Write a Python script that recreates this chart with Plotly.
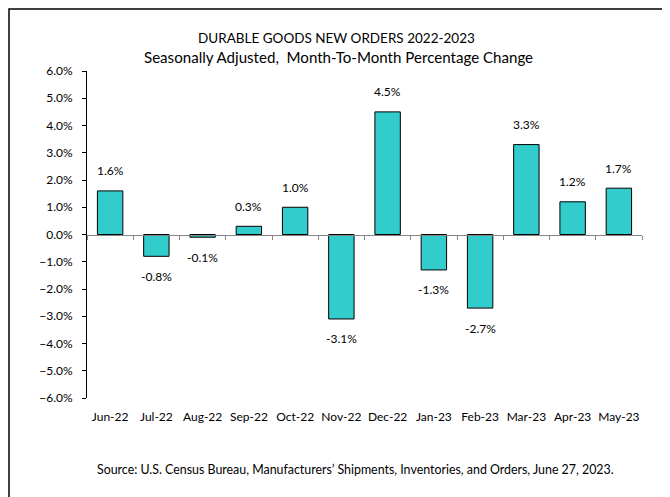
import plotly.graph_objects as go

months = ["Jun-22", "Jul-22", "Aug-22", "Sep-22", "Oct-22", "Nov-22",
          "Dec-22", "Jan-23", "Feb-23", "Mar-23", "Apr-23", "May-23"]
changes = [1.6, -0.8, -0.1, 0.3, 1.0, -3.1, 4.5, -1.3, -2.7, 3.3, 1.2, 1.7]
value_labels = [f"{v:.1f}%" for v in changes]

title_lines = ["DURABLE GOODS NEW ORDERS 2022-2023",
               "Seasonally Adjusted,  Month-To-Month Percentage Change"]
source_text = ("Source: U.S. Census Bureau, Manufacturers\u2019 Shipments, "
               "Inventories, and Orders, June 27, 2023.")

FONT = "Lato"
OFF = 8  # browser body margin
W, H = 670 - OFF, 497 - OFF
ML = 87 - OFF
MT = 71 - OFF
PLOT_R = 642 - OFF
PLOT_B = 398.4 - OFF
MR = W - PLOT_R
MB = H - PLOT_B
PW = W - ML - MR
PH = H - MT - MB

fig = go.Figure()
fig.add_trace(go.Bar(
    x=months, y=changes, width=0.55,
    marker=dict(color="#33CCCC", line=dict(color="#000000", width=1)),
    hoverinfo="skip", showlegend=False,
))
# invisible helper trace so the zero-line axis (with boundary ticks) is drawn
fig.add_trace(go.Scatter(
    x=months, y=[0] * len(months), xaxis="x2", mode="markers",
    marker=dict(opacity=0), hoverinfo="skip", showlegend=False,
))

for m, v, t in zip(months, changes, value_labels):
    fig.add_annotation(x=m, y=v, text=t, showarrow=False,
                       yshift=20 if v >= 0 else -20,
                       font=dict(family=FONT, size=12, color="#000000"))

def px_x(px):
    return (px - OFF - ML) / PW

def px_y(py):
    return (H - MB - (py - OFF)) / PH

fig.add_annotation(xref="paper", yref="paper", x=px_x(355.5), y=px_y(470),
                   text=source_text, showarrow=False, xanchor="center",
                   yanchor="middle", font=dict(family=FONT, size=12.4, color="#000000"))

# title, two lines
fig.add_annotation(xref="paper", yref="paper", x=px_x(336), y=px_y(38),
                   text=title_lines[0], showarrow=False, xanchor="center",
                   yanchor="middle", font=dict(family=FONT, size=13.5, color="#000000"))
fig.add_annotation(xref="paper", yref="paper", x=px_x(338), y=px_y(57),
                   text=title_lines[1], showarrow=False, xanchor="center",
                   yanchor="middle", font=dict(family=FONT, size=15.1, color="#000000"))

# outer chart border (extends past right/bottom of the window)
fig.add_shape(type="rect", xref="paper", yref="paper",
              x0=px_x(9), x1=px_x(700), y0=px_y(530), y1=px_y(9),
              line=dict(color="#000000", width=1.5), fillcolor="rgba(0,0,0,0)")

fig.update_layout(
    width=W, height=H,
    margin=dict(l=ML, r=MR, t=MT, b=MB),
    paper_bgcolor="white", plot_bgcolor="white",
    font=dict(family=FONT, size=12, color="#000000"),
    bargap=0.45,
    xaxis=dict(type="category", range=[-0.5, 11.5], showline=False, ticks="",
               showgrid=False, zeroline=False, ticklabelstandoff=10,
               tickfont=dict(family=FONT, size=12)),
    xaxis2=dict(type="category", overlaying="x", anchor="free", position=0.5,
                range=[-0.5, 11.5], showline=True, linecolor="#868686", linewidth=1,
                ticks="outside", tickson="boundaries", ticklen=4, tickcolor="#868686",
                showticklabels=False, showgrid=False, zeroline=False, side="bottom"),
    yaxis=dict(range=[-6, 6], dtick=1, tickformat=".1f", ticksuffix="%",
               showline=True, linecolor="#000000", linewidth=1, ticks="outside",
               ticklen=4, tickcolor="#000000", showgrid=False, zeroline=False,
               ticklabelstandoff=7, tickfont=dict(family=FONT, size=12)),
)

fig.write_html("out.html")
